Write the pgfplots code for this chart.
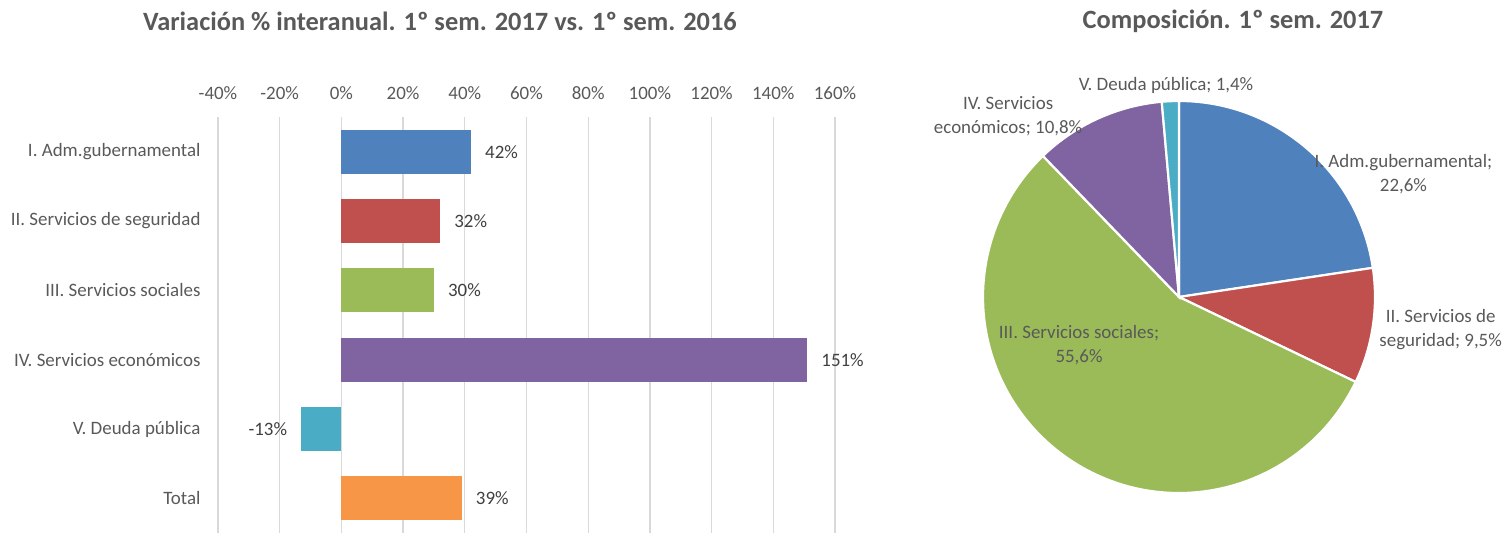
\documentclass[border=0pt]{standalone}
\usepackage{fontspec}
\setmainfont{Carlito}
\usepackage{pgfplots}
\pgfplotsset{compat=1.18}

\definecolor{cI}{HTML}{4F81BD}
\definecolor{cII}{HTML}{C0504D}
\definecolor{cIII}{HTML}{9BBB59}
\definecolor{cIV}{HTML}{8064A2}
\definecolor{cV}{HTML}{4BACC6}
\definecolor{cTot}{HTML}{F79646}
\definecolor{txt}{HTML}{595959}
\definecolor{valtxt}{HTML}{404040}
\definecolor{gridc}{HTML}{D9D9D9}

\newcommand\lbl{\fontsize{19}{24}\selectfont}

% pie shares (%)
\def\pI{22.6}
\def\pII{9.5}
\def\pIII{55.6}
\def\pIV{10.8}
\def\pV{1.4}

\begin{document}
\begin{tikzpicture}
\useasboundingbox (0bp,0bp) rectangle (1510bp,533bp);

\node[font=\bfseries\fontsize{26.5}{31}\selectfont, text=txt] at (440bp,512bp)
  {Variación \% interanual. 1º sem. 2017 vs. 1º sem. 2016};
\node[font=\bfseries\fontsize{26.5}{31}\selectfont, text=txt] at (1233bp,512bp)
  {Composición. 1º sem. 2017};

\begin{axis}[
  at={(218bp,0bp)}, anchor=south west,
  scale only axis, width=617bp, height=416bp,
  xbar, bar width=44bp, bar shift=0pt,
  xmin=-40, xmax=160, xtick={-40,-20,...,160},
  ymin=-0.5, ymax=5.5, y dir=reverse, ytick={0,...,5},
  yticklabels={I. Adm.gubernamental, II. Servicios de seguridad,
    III. Servicios sociales, IV. Servicios económicos,
    V. Deuda pública, Total},
  xticklabel pos=upper,
  xticklabel={\pgfmathprintnumber[assume math mode=true]{\tick}\%},
  axis line style={draw=none},
  major tick length=0pt,
  xmajorgrids, grid style={gridc, line width=1.3bp},
  tick label style={text=txt, font=\lbl},
  yticklabel style={xshift=-14bp},
  xticklabel style={yshift=14bp},
  point meta=x,
  nodes near coords={\pgfmathprintnumber[assume math mode=true]{\pgfplotspointmeta}\%},
  nodes near coords align=horizontal,
  every node near coord/.append style={text=valtxt, font=\lbl, inner xsep=14bp, inner ysep=0pt},
  clip=false,
]
\addplot[fill=cI, draw=none] coordinates {(42,0)};
\addplot[fill=cII, draw=none] coordinates {(32,1)};
\addplot[fill=cIII, draw=none] coordinates {(30,2)};
\addplot[fill=cIV, draw=none] coordinates {(151,3)};
\addplot[fill=cV, draw=none] coordinates {(-13,4)};
\addplot[fill=cTot, draw=none] coordinates {(39,5)};
\end{axis}

\pgfmathsetmacro\tot{\pI+\pII+\pIII+\pIV+\pV}
\pgfmathsetmacro\aA{90}
\pgfmathsetmacro\aB{\aA-\pI/\tot*360}
\pgfmathsetmacro\aC{\aB-\pII/\tot*360}
\pgfmathsetmacro\aD{\aC-\pIII/\tot*360}
\pgfmathsetmacro\aE{\aD-\pIV/\tot*360}
\pgfmathsetmacro\aF{\aE-\pV/\tot*360}

\begin{axis}[
  at={(1179bp,236bp)}, anchor=center,
  scale only axis, width=392bp, height=392bp,
  xmin=-1, xmax=1, ymin=-1, ymax=1,
  hide axis, clip=false,
]
\fill[cI, draw=white, line width=2.2bp] (axis cs:0,0) -- (axis cs:{cos(\aA)},{sin(\aA)}) arc[start angle=\aA, end angle=\aB, radius=196bp] -- cycle;
\fill[cII, draw=white, line width=2.2bp] (axis cs:0,0) -- (axis cs:{cos(\aB)},{sin(\aB)}) arc[start angle=\aB, end angle=\aC, radius=196bp] -- cycle;
\fill[cIII, draw=white, line width=2.2bp] (axis cs:0,0) -- (axis cs:{cos(\aC)},{sin(\aC)}) arc[start angle=\aC, end angle=\aD, radius=196bp] -- cycle;
\fill[cIV, draw=white, line width=2.2bp] (axis cs:0,0) -- (axis cs:{cos(\aD)},{sin(\aD)}) arc[start angle=\aD, end angle=\aE, radius=196bp] -- cycle;
\fill[cV, draw=white, line width=2.2bp] (axis cs:0,0) -- (axis cs:{cos(\aE)},{sin(\aE)}) arc[start angle=\aE, end angle=\aF, radius=196bp] -- cycle;

\node[font=\lbl, text=txt, align=center] at (axis cs:1.145,0.628) {I. Adm.gubernamental;\\22,6\%};
\node[font=\lbl, text=txt, align=center] at (axis cs:1.335,-0.168) {II. Servicios de\\seguridad; 9,5\%};
\node[font=\lbl, text=txt, align=center] at (axis cs:-0.510,-0.245) {III. Servicios sociales;\\55,6\%};
\node[font=\lbl, text=txt, align=center] at (axis cs:-0.872,0.923) {IV. Servicios\\económicos; 10,8\%};
\node[font=\lbl, text=txt, align=center] at (axis cs:-0.066,1.077) {V. Deuda pública; 1,4\%};
\end{axis}
\end{tikzpicture}
\end{document}
